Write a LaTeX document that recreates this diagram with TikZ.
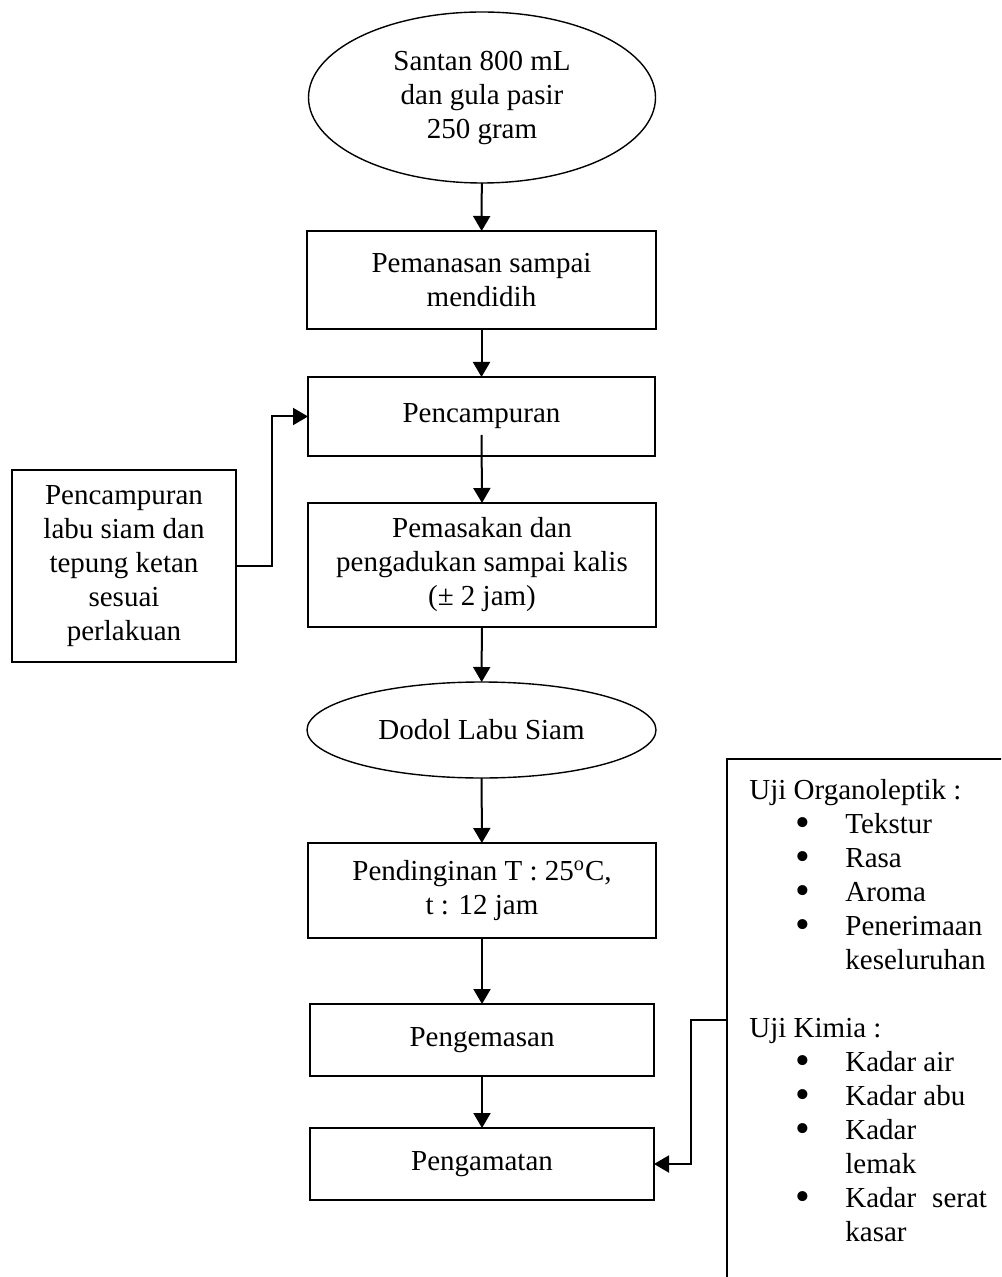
\documentclass[tikz,border=0pt]{standalone}
\usepackage{fontspec}
\setmainfont{Liberation Serif}
\usetikzlibrary{shapes.geometric,arrows.meta}
\newcommand{\titik}{\smash{\raisebox{-1.6pt}{\scalebox{1.45}{\textbullet}}}}
\newcommand{\butir}[1]{\hspace*{23pt}\makebox[25pt][l]{\titik}#1}
\newcommand{\lanjut}[1]{\hspace*{48pt}#1}

\begin{document}
\begin{tikzpicture}
    [x=0.5pt, y=-0.5pt,
    font=\fontsize{14.5}{17}\selectfont,
    kotak/.style={draw, line width=1pt, rectangle, align=center, outer sep=0pt, inner sep=2pt},
    lonjong/.style={draw, line width=0.7pt, ellipse, align=center, outer sep=0pt, inner sep=1pt},
    panah/.style={line width=1pt, -{Triangle[length=7.5pt,width=8.5pt]}}]

\useasboundingbox (0,0) rectangle (1001,1277);
\clip (0,0) rectangle (1001,1277);

\node[lonjong, minimum width=173.5pt, minimum height=85.5pt] (santan) at (482,97.5)
    {Santan 800 mL\\dan gula pasir\\250 gram};
\node[kotak, minimum width=174.5pt, minimum height=49pt] (panas) at (481.5,280)
    {Pemanasan sampai\\mendidih};
\node[kotak, minimum width=173.5pt, minimum height=39.5pt] (campur) at (481.5,416.5)
    {Pencampuran};
\node[kotak, minimum width=174pt, minimum height=62pt] (masak) at (482,565)
    {Pemasakan dan\\pengadukan sampai kalis\\(± 2 jam)};
\node[lonjong, minimum width=174.5pt, minimum height=48pt] (dodol) at (481.5,730)
    {Dodol Labu Siam};
\node[kotak, minimum width=174pt, minimum height=47.5pt] (dingin) at (482,890.5)
    {Pendinginan T : 25\textsuperscript{o}C,\\t : 12 jam};
\node[kotak, minimum width=172pt, minimum height=36pt] (kemas) at (482,1040)
    {Pengemasan};
\node[kotak, minimum width=172pt, minimum height=36pt] (amat) at (482,1164)
    {Pengamatan};
\node[kotak, minimum width=112pt, minimum height=96pt] (labu) at (124,566)
    {Pencampuran\\labu siam dan\\tepung ketan\\sesuai\\perlakuan};

% kotak uji, terpotong di tepi kanan dan bawah
\draw[line width=1pt] (727,759) rectangle (1030,1310);
\node[anchor=north west, align=left, inner sep=0pt] (uji) at (749,779)
    {Uji Organoleptik :\\
    \butir{Tekstur}\\
    \butir{Rasa}\\
    \butir{Aroma}\\
    \butir{Penerimaan}\\
    \lanjut{keseluruhan}\\[17pt]
    Uji Kimia :\\
    \butir{Kadar air}\\
    \butir{Kadar abu}\\
    \butir{Kadar}\\
    \lanjut{lemak}\\
    \butir{Kadar\hspace{8pt}serat}\\
    \lanjut{kasar}};
\coordinate (ujitap) at (727,1020);

\draw[panah] (santan) -- (panas);
\draw[panah] (panas) -- (campur);
\draw[panah] ([yshift=10.5pt]campur.south) -- (masak.north);
\draw[panah] (masak) -- (dodol);
\draw[panah] (dodol) -- (dingin);
\draw[panah] (dingin) -- (kemas);
\draw[panah] (kemas) -- (amat);
\draw[panah] (labu.east) -- ++(18pt,0) |- (campur.west);
\draw[panah] (ujitap) -- ++(-18pt,0) |- (amat.east);
\end{tikzpicture}
\end{document}
